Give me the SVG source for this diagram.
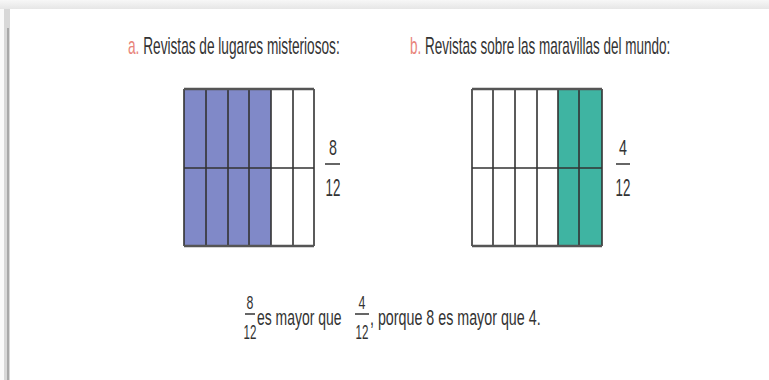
<svg xmlns="http://www.w3.org/2000/svg" width="769" height="380" viewBox="0 0 769 380">
<defs>
<style>
.t{font-family:"Liberation Sans",Arial,sans-serif;fill:#333}
.m{text-anchor:middle}
.lab{fill:#e8847a}
.g{stroke:#333;stroke-width:1.6;fill:none}
.b{stroke:#555;stroke-width:2.6;fill:none}
.fl{stroke:#333;stroke-width:1.5}
</style>
<linearGradient id="top" x1="0" y1="0" x2="0" y2="1"><stop offset="0" stop-color="#f7f7f7"/><stop offset="1" stop-color="#e6e6e6"/></linearGradient>
</defs>
<rect width="769" height="380" fill="#fafafa"/>
<rect x="0" y="0" width="769" height="9" fill="url(#top)"/>
<rect x="4" y="9" width="6" height="371" fill="#d8d8d8"/>
<rect x="7" y="28" width="2" height="352" fill="#a8a8a8"/>
<rect x="10" y="9" width="759" height="371" fill="#ffffff"/>

<g id="title-a" transform="translate(128 54) scale(0.594 1)"><text class="t" x="0" y="0" font-size="23"><tspan class="lab">a.</tspan> Revistas de lugares misteriosos:</text></g>
<g id="title-b" transform="translate(410 54) scale(0.587 1)"><text class="t" x="0" y="0" font-size="23"><tspan class="lab">b.</tspan> Revistas sobre las maravillas del mundo:</text></g>

<g id="grid-a">
<rect x="184" y="89" width="87" height="157" fill="#8089c8"/>
<path class="g" d="M184 89V246M206 89V246M228 89V246M249 89V246M271 89V246M293 89V246M314 89V246M184 168H314"/>
<path class="b" d="M184 89H314M184 246H314"/>
</g>
<g id="frac-a">
<text class="t m" transform="translate(333 155) scale(0.65 1)" font-size="22">8</text>
<line class="fl" x1="325" y1="164" x2="340" y2="164"/>
<text class="t m" transform="translate(333 196) scale(0.58 1)" font-size="23">12</text>
</g>

<g id="grid-b">
<rect x="558" y="89" width="44" height="157" fill="#3fb4a2"/>
<path class="g" d="M472 89V246M493 89V246M515 89V246M537 89V246M558 89V246M579 89V246M602 89V246M472 168H602"/>
<path class="b" d="M472 89H602M472 246H602"/>
</g>
<g id="frac-b">
<text class="t m" transform="translate(623 155) scale(0.65 1)" font-size="22">4</text>
<line class="fl" x1="616" y1="164" x2="630" y2="164"/>
<text class="t m" transform="translate(623 196) scale(0.58 1)" font-size="23">12</text>
</g>

<g id="statement">
<text class="t m" transform="translate(250 309) scale(0.65 1)" font-size="19">8</text>
<line class="fl" x1="245" y1="314" x2="255" y2="314"/>
<text class="t m" transform="translate(250 339) scale(0.55 1)" font-size="21">12</text>
<text class="t" transform="translate(257 325) scale(0.62 1)" font-size="22.5">es mayor que</text>
<text class="t m" transform="translate(362 309) scale(0.65 1)" font-size="19">4</text>
<line class="fl" x1="355" y1="314" x2="369" y2="314"/>
<text class="t m" transform="translate(362 339) scale(0.55 1)" font-size="21">12</text>
<text class="t" transform="translate(370 325) scale(0.635 1)" font-size="22.5">, porque 8 es mayor que 4.</text>
</g>
</svg>
